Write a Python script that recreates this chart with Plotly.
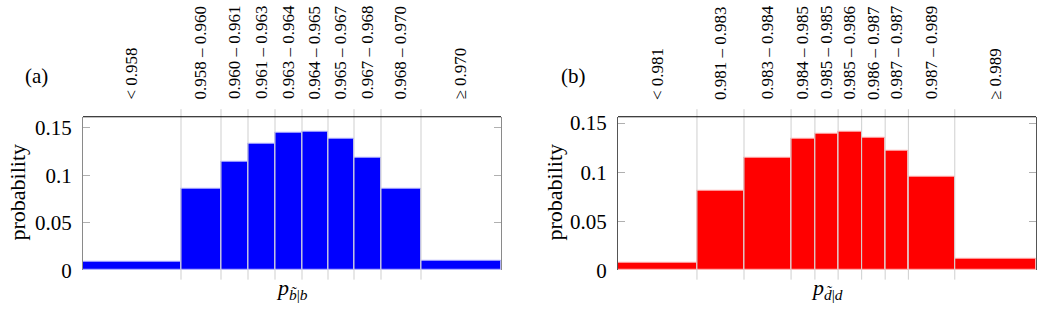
import plotly.graph_objects as go

# ---------------- data ----------------
edges_a = [0.9531, 0.958, 0.960, 0.96135, 0.9627, 0.96405, 0.96535, 0.96665, 0.968, 0.970, 0.974]
probs_a = [0.009, 0.086, 0.114, 0.133, 0.145, 0.146, 0.139, 0.118, 0.086, 0.0095]
labels_a = ["< 0.958", "0.958 – 0.960", "0.960 – 0.961", "0.961 – 0.963", "0.963 – 0.964",
            "0.964 – 0.965", "0.965 – 0.967", "0.967 – 0.968", "0.968 – 0.970", "≥ 0.970"]

edges_b = [0.97855, 0.981, 0.98246, 0.98392, 0.98466, 0.98538, 0.98611, 0.98684, 0.98756, 0.989, 0.99152]
probs_b = [0.0071, 0.0813, 0.1145, 0.1345, 0.1394, 0.1413, 0.1352, 0.1223, 0.0955, 0.0119]
labels_b = ["< 0.981", "0.981 – 0.983", "0.983 – 0.984", "0.984 – 0.985", "0.985 – 0.985",
            "0.985 – 0.986", "0.986 – 0.987", "0.987 – 0.987", "0.987 – 0.989", "≥ 0.989"]

ytick_vals = [0, 0.05, 0.1, 0.15]
ytick_text = ["0", "0.05", "0.1", "0.15"]

# ---------------- layout helpers ----------------
W, H = 1037, 321
FONT = "Liberation Serif"
dom_a = [83 / W, 501 / W]
dom_b = [618 / W, 1036 / W]
ydom = [41 / H, 203 / H]


def centers(e):
    return [(e[i] + e[i + 1]) / 2 for i in range(len(e) - 1)]


def widths(e):
    return [e[i + 1] - e[i] for i in range(len(e) - 1)]


fig = go.Figure()
fig.add_trace(go.Bar(x=centers(edges_a), y=probs_a, width=widths(edges_a),
                     marker=dict(color="#0000ff", line=dict(color="rgb(175,175,255)", width=1)),
                     xaxis="x", yaxis="y", showlegend=False, hoverinfo="skip"))
fig.add_trace(go.Bar(x=centers(edges_b), y=probs_b, width=widths(edges_b),
                     marker=dict(color="#ff0000", line=dict(color="rgb(255,175,175)", width=1)),
                     xaxis="x2", yaxis="y2", showlegend=False, hoverinfo="skip"))


def bottom_x(dom, e, anchor):
    return dict(domain=dom, range=[e[0], e[-1]], anchor=anchor, showticklabels=False,
                showgrid=False, zeroline=False, showline=False, ticks="")


def yax(rng, anchor, linecolor):
    return dict(domain=ydom, range=rng, anchor=anchor, tickmode="array",
                tickvals=ytick_vals, ticktext=ytick_text, ticks="inside", ticklen=7,
                tickcolor="#b0b0b0", showline=True, linecolor=linecolor, linewidth=1,
                mirror="ticks", showgrid=False, zeroline=False, ticklabelstandoff=6,
                tickfont=dict(family=FONT, size=21, color="black"))


shapes = []
for e, xr, dom in ((edges_a, "x", dom_a), (edges_b, "x2", dom_b)):
    for v in e[1:-1]:
        shapes.append(dict(type="line", xref=xr, yref="paper", x0=v, x1=v,
                           y0=ydom[0] - 10 / H, y1=ydom[1] + 8 / H,
                           line=dict(color="#cfcfcf", width=1), layer="above"))
    # top frame line of the axis box
    shapes.append(dict(type="line", xref="paper", yref="paper", x0=dom[0], x1=dom[1],
                       y0=ydom[1], y1=ydom[1], line=dict(color="black", width=1), layer="above"))

ann = []
for e, labels, xr in ((edges_a, labels_a, "x"), (edges_b, labels_b, "x2")):
    for c, lab in zip(centers(e), labels):
        ann.append(dict(text=lab, x=c, y=ydom[1] + 16 / H, xref=xr, yref="paper",
                        showarrow=False, textangle=-90, xanchor="center", yanchor="bottom",
                        font=dict(family=FONT, size=17, color="black")))
for txt, xp in (("(a)", 36), ("(b)", 573)):
    ann.append(dict(text=txt, x=xp / W, y=(H - 75) / H, xref="paper", yref="paper",
                    showarrow=False, xanchor="center", yanchor="middle",
                    font=dict(family=FONT, size=21, color="black")))
for xp in (18, 555):
    ann.append(dict(text="probability", x=xp / W, y=(H - 198) / H, xref="paper", yref="paper",
                    showarrow=False, textangle=-90, xanchor="center", yanchor="middle",
                    font=dict(family=FONT, size=22, color="black")))
for dom, sym in ((dom_a, "b"), (dom_b, "d")):
    ann.append(dict(text=f"<i>p</i><sub><i>{sym}\u0303</i>|<i>{sym}</i></sub>",
                    x=(dom[0] + dom[1]) / 2, y=(H - 300) / H, xref="paper", yref="paper",
                    showarrow=False, xanchor="center", yanchor="middle",
                    font=dict(family=FONT, size=22, color="black")))

fig.update_layout(
    width=W, height=H, margin=dict(l=0, r=0, t=0, b=0),
    paper_bgcolor="white", plot_bgcolor="white", bargap=0,
    xaxis=bottom_x(dom_a, edges_a, "y"),
    xaxis2=bottom_x(dom_b, edges_b, "y2"),
    yaxis=yax([0, 0.1617], "x", "#8a8a8a"),
    yaxis2=yax([0, 0.1565], "x2", "#555555"),
    shapes=shapes, annotations=ann,
)

fig.write_html("out.html")
